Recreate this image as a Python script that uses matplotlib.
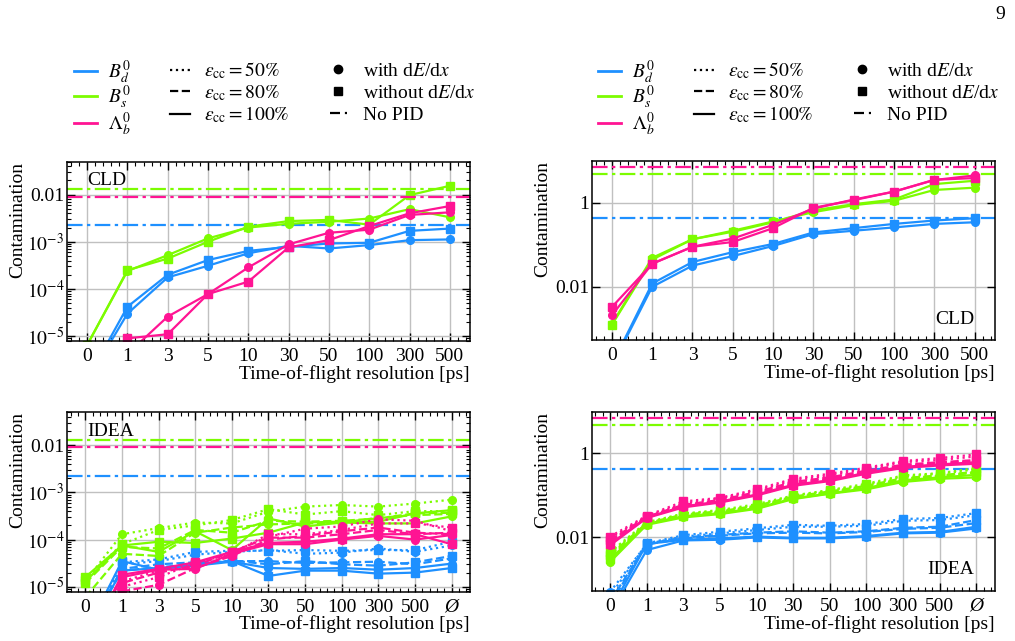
import numpy as np
import matplotlib.pyplot as plt
from matplotlib.lines import Line2D
from matplotlib.ticker import LogLocator, FuncFormatter, MultipleLocator, NullLocator

plt.rcParams['font.family'] = ['Liberation Serif', 'DejaVu Serif']
plt.rcParams['mathtext.fontset'] = 'stix'
plt.rcParams['font.size'] = 14

# x categories (time-of-flight resolution)
res_cld = ['0', '1', '3', '5', '10', '30', '50', '100', '300', '500']
res_idea = res_cld + ['Ø']

# CLD, left: [with dE/dx, without dE/dx]
cld_l_bd = [[1.1e-6, 3.0e-5, 1.76e-4, 3.1e-4, 5.7e-4, 8.2e-4, 7.2e-4, 8.5e-4, 1.08e-3, 1.12e-3],
            [1.2e-6, 4.2e-5, 2.0e-4, 4.1e-4, 6.4e-4, 7.8e-4, 9.2e-4, 9.5e-4, 1.7e-3, 1.9e-3]]
cld_l_bs = [[6.5e-6, 2.4e-4, 5.2e-4, 1.18e-3, 2.0e-3, 2.4e-3, 2.65e-3, 3.1e-3, 4.9e-3, 3.3e-3],
            [6.5e-6, 2.5e-4, 4.4e-4, 1.0e-3, 2.08e-3, 2.74e-3, 2.9e-3, 2.3e-3, 9.7e-3, 1.53e-2]]
cld_l_lb = [[1e-7, 4.2e-6, 2.6e-5, 7.8e-5, 2.86e-4, 8.8e-4, 1.55e-3, 1.8e-3, 3.7e-3, 4.2e-3],
            [1e-7, 9.0e-6, 1.1e-5, 7.8e-5, 1.43e-4, 7.6e-4, 1.08e-3, 2.15e-3, 4.0e-3, 5.7e-3]]

# CLD, right: [with dE/dx, without dE/dx]
cld_r_bd = [[1.3e-4, 0.010, 0.032, 0.054, 0.094, 0.18, 0.217, 0.26, 0.315, 0.345],
            [1.4e-4, 0.012, 0.039, 0.067, 0.105, 0.197, 0.25, 0.315, 0.38, 0.43]]
cld_r_bs = [[1.3e-3, 0.049, 0.136, 0.217, 0.36, 0.60, 0.88, 1.12, 2.03, 2.3],
            [1.24e-3, 0.0445, 0.136, 0.205, 0.345, 0.66, 0.93, 1.2, 2.8, 3.36]]
cld_r_lb = [[2.1e-3, 0.0355, 0.09, 0.141, 0.30, 0.73, 1.2, 1.85, 3.5, 4.5],
            [3.3e-3, 0.0355, 0.09, 0.117, 0.25, 0.76, 1.16, 1.85, 3.55, 3.9]]

# IDEA, left: [eps50 with, eps50 without, eps80 with, eps80 without, eps100 with, eps100 without]
idea_l_bd = [[1e-6, 3.0e-5, 3.5e-5, 4.8e-5, 5.5e-5, 6.0e-5, 5.0e-5, 5.3e-5, 6.5e-5, 5.5e-5, 7.5e-5],
             [1e-6, 3.3e-5, 3.8e-5, 5.5e-5, 5.8e-5, 5.8e-5, 6.0e-5, 5.8e-5, 6.0e-5, 6.0e-5, 9.0e-5],
             [1e-6, 2.4e-5, 3.0e-5, 3.3e-5, 3.5e-5, 3.5e-5, 3.2e-5, 3.3e-5, 3.4e-5, 3.0e-5, 4.0e-5],
             [1e-6, 2.2e-5, 2.6e-5, 3.0e-5, 3.6e-5, 3.0e-5, 3.5e-5, 3.0e-5, 2.8e-5, 3.3e-5, 4.5e-5],
             [1e-6, 2.2e-5, 2.5e-5, 2.8e-5, 3.4e-5, 2.5e-5, 2.4e-5, 2.5e-5, 2.3e-5, 2.5e-5, 3.1e-5],
             [1e-6, 3.5e-5, 2.3e-5, 3.0e-5, 3.5e-5, 1.7e-5, 2.2e-5, 2.2e-5, 1.9e-5, 2.0e-5, 2.5e-5]]
idea_l_bs = [[1.3e-5, 1.3e-4, 1.75e-4, 2.3e-4, 2.2e-4, 3.9e-4, 5.0e-4, 5.4e-4, 5.0e-4, 5.8e-4, 7.0e-4],
             [1.4e-5, 8.0e-5, 1.6e-4, 2.0e-4, 2.6e-4, 4.4e-4, 3.4e-4, 4.0e-4, 3.3e-4, 4.0e-4, 4.0e-4],
             [6.0e-6, 5.0e-5, 4.5e-5, 1.4e-4, 1.8e-4, 2.1e-4, 2.2e-4, 2.3e-4, 2.9e-4, 3.3e-4, 3.5e-4],
             [1.2e-5, 7.0e-5, 6.5e-5, 1.6e-4, 1.4e-4, 2.5e-4, 2.4e-4, 2.5e-4, 2.8e-4, 3.6e-4, 3.7e-4],
             [1.3e-5, 7.5e-5, 5.5e-5, 1.5e-4, 6.0e-5, 2.8e-4, 1.9e-4, 2.3e-4, 2.2e-4, 2.2e-4, 3.1e-4],
             [1.6e-5, 7.5e-5, 9.0e-5, 8.5e-5, 1.05e-4, 1.4e-4, 2.3e-4, 2.4e-4, 2.4e-4, 3.6e-4, 4.2e-4]]
idea_l_lb = [[5e-7, 1.3e-5, 2.2e-5, 3.0e-5, 5.5e-5, 1.15e-4, 1.7e-4, 1.9e-4, 2.7e-4, 2.5e-4, 1.5e-4],
             [5e-7, 1.0e-5, 1.6e-5, 3.2e-5, 5.0e-5, 1.3e-4, 1.3e-4, 1.6e-4, 2.2e-4, 2.2e-4, 1.8e-4],
             [4e-7, 8.0e-6, 1.1e-5, 2.5e-5, 4.5e-5, 1.0e-4, 1.2e-4, 1.5e-4, 1.8e-4, 1.4e-4, 1.3e-4],
             [5e-7, 1.2e-5, 2.0e-5, 2.8e-5, 5.5e-5, 1.1e-4, 1.1e-4, 1.3e-4, 1.6e-4, 1.3e-4, 1.4e-4],
             [5e-7, 1.6e-5, 2.3e-5, 2.4e-5, 5.0e-5, 8.0e-5, 8.0e-5, 1.0e-4, 1.2e-4, 1.0e-4, 1.25e-4],
             [5e-7, 1.8e-5, 2.4e-5, 3.3e-5, 5.5e-5, 8.5e-5, 9.0e-5, 1.05e-4, 1.3e-4, 1.3e-4, 8.0e-5]]

# IDEA, right
idea_r_bd = [[5e-4, 0.0070, 0.0105, 0.0125, 0.015, 0.018, 0.018, 0.019, 0.025, 0.026, 0.034],
             [4e-4, 0.0072, 0.0113, 0.0137, 0.0165, 0.020, 0.019, 0.021, 0.0275, 0.029, 0.038],
             [3e-4, 0.0068, 0.0095, 0.011, 0.0125, 0.013, 0.0125, 0.0135, 0.016, 0.017, 0.022],
             [2.5e-4, 0.0070, 0.010, 0.0115, 0.013, 0.014, 0.013, 0.014, 0.017, 0.018, 0.026],
             [1.5e-4, 0.0050, 0.0085, 0.0088, 0.010, 0.0095, 0.0095, 0.0104, 0.0125, 0.013, 0.0164],
             [1.8e-4, 0.0070, 0.0088, 0.0095, 0.0105, 0.0098, 0.0098, 0.0108, 0.013, 0.0135, 0.018]]
idea_r_bs = [[0.0042, 0.022, 0.036, 0.043, 0.058, 0.097, 0.13, 0.18, 0.28, 0.33, 0.42],
             [0.0045, 0.023, 0.037, 0.045, 0.062, 0.10, 0.135, 0.19, 0.30, 0.34, 0.45],
             [0.0035, 0.021, 0.034, 0.040, 0.054, 0.09, 0.12, 0.16, 0.25, 0.29, 0.35],
             [0.0038, 0.022, 0.035, 0.042, 0.057, 0.094, 0.125, 0.17, 0.26, 0.30, 0.37],
             [0.0026, 0.020, 0.030, 0.036, 0.048, 0.082, 0.11, 0.14, 0.21, 0.25, 0.27],
             [0.0030, 0.021, 0.032, 0.038, 0.050, 0.085, 0.112, 0.15, 0.23, 0.27, 0.31]]
idea_r_lb = [[0.0095, 0.032, 0.065, 0.085, 0.13, 0.23, 0.30, 0.43, 0.62, 0.70, 0.85],
             [0.0105, 0.033, 0.072, 0.088, 0.14, 0.25, 0.33, 0.46, 0.66, 0.78, 0.95],
             [0.0080, 0.030, 0.058, 0.074, 0.11, 0.19, 0.25, 0.36, 0.50, 0.58, 0.65],
             [0.0085, 0.031, 0.060, 0.078, 0.12, 0.21, 0.27, 0.39, 0.54, 0.62, 0.70],
             [0.0065, 0.029, 0.052, 0.068, 0.10, 0.17, 0.22, 0.33, 0.45, 0.52, 0.57],
             [0.0070, 0.030, 0.055, 0.072, 0.105, 0.18, 0.23, 0.35, 0.48, 0.55, 0.62]]

# No PID reference levels [Bd, Bs, Lb]
nopid_l = [2.25e-3, 0.013, 0.009]
nopid_r = [0.43, 4.9, 7.0]

colors = ['#1E90FF', '#7CFC00', '#FF1493']
markers = ['o', 's']
eps_styles = [':', '--', '-']
dashdot = (0, (7, 2, 1.5, 2))


def fmt_log(v, pos):
    if v >= 0.01:
        return '%g' % v
    return r'$10^{%d}$' % int(round(np.log10(v)))


def style_axes(ax, labels, ylim, base):
    ax.set_yscale('log')
    ax.set_xlim(-0.5, len(labels) - 0.5)
    ax.set_ylim(*ylim)
    ax.set_xticks(np.arange(len(labels)))
    ax.set_xticklabels(labels)
    if labels[-1] == 'Ø':
        ax.get_xticklabels()[-1].set_style('italic')
    ax.xaxis.set_minor_locator(MultipleLocator(0.2))
    ax.yaxis.set_major_locator(LogLocator(base=base, numticks=20))
    if base == 10:
        ax.yaxis.set_minor_locator(LogLocator(base=10, subs=np.arange(2, 10), numticks=20))
    else:
        ax.yaxis.set_minor_locator(NullLocator())
    ax.yaxis.set_major_formatter(FuncFormatter(fmt_log))
    ax.tick_params(which='both', direction='in', top=True, right=True)
    ax.tick_params(which='major', length=6, width=1)
    ax.tick_params(which='minor', length=3, width=0.8)
    ax.tick_params(axis='x', which='major', pad=5)
    ax.tick_params(axis='y', which='major', pad=2)
    for s in ax.spines.values():
        s.set_linewidth(1.1)
    ax.grid(True, which='major', color='#c0c0c0', lw=1)
    ax.set_axisbelow(True)
    ax.set_xlabel('Time-of-flight resolution [ps]', loc='right', labelpad=0)
    ax.set_ylabel('Contamination', loc='top')
    ax.yaxis.set_label_coords(-0.10, 1.0)


def draw_cld(ax, series, nopid):
    x = np.arange(len(res_cld))
    for c, sp, ref in zip(colors, series, nopid):
        ax.axhline(ref, color=c, lw=1.6, linestyle=dashdot)
        for m, vals in zip(markers, sp):
            ax.plot(x, vals, color=c, lw=1.6, marker=m, ms=5.5)


def draw_idea(ax, series, nopid):
    x = np.arange(len(res_idea))
    for c, sp, ref in zip(colors, series, nopid):
        ax.axhline(ref, color=c, lw=1.6, linestyle=dashdot)
        for i, vals in enumerate(sp):
            ax.plot(x, vals, color=c, lw=1.6, linestyle=eps_styles[i // 2],
                    marker=markers[i % 2], ms=5.5)


fig = plt.figure(figsize=(10.15, 6.41), dpi=100)
w, h = 0.397, 0.28
ax_tl = fig.add_axes([0.066, 0.468, w, h])
ax_tr = fig.add_axes([0.583, 0.469, w, h])
ax_bl = fig.add_axes([0.066, 0.077, w, h])
ax_br = fig.add_axes([0.583, 0.078, w, h])

draw_cld(ax_tl, [cld_l_bd, cld_l_bs, cld_l_lb], nopid_l)
draw_cld(ax_tr, [cld_r_bd, cld_r_bs, cld_r_lb], nopid_r)
draw_idea(ax_bl, [idea_l_bd, idea_l_bs, idea_l_lb], nopid_l)
draw_idea(ax_br, [idea_r_bd, idea_r_bs, idea_r_lb], nopid_r)

style_axes(ax_tl, res_cld, (7.9e-6, 0.05), 10)
style_axes(ax_tr, res_cld, (5.3e-4, 10), 100)
style_axes(ax_bl, res_idea, (7.9e-6, 0.05), 10)
style_axes(ax_br, res_idea, (5.3e-4, 10), 100)

ax_tl.text(0.05, 0.94, 'CLD', transform=ax_tl.transAxes, ha='left', va='top')
ax_bl.text(0.05, 0.94, 'IDEA', transform=ax_bl.transAxes, ha='left', va='top')
ax_tr.text(0.95, 0.07, 'CLD', transform=ax_tr.transAxes, ha='right', va='bottom')
ax_br.text(0.95, 0.07, 'IDEA', transform=ax_br.transAxes, ha='right', va='bottom')

# legend entries, one small legend each so rows line up across columns
species_handles = [Line2D([], [], color=c, lw=2) for c in colors]
species_labels = [r'$B_d^0$', r'$B_s^0$', r'$\Lambda_b^0$']
eps_handles = [Line2D([], [], color='k', lw=1.6, linestyle=ls) for ls in eps_styles]
eps_labels = [r'$\varepsilon_{\rm cc} = 50\%$', r'$\varepsilon_{\rm cc} = 80\%$',
              r'$\varepsilon_{\rm cc} = 100\%$']
pid_handles = [Line2D([], [], color='k', marker='o', ms=6, linestyle='None'),
               Line2D([], [], color='k', marker='s', ms=6, linestyle='None'),
               Line2D([], [], color='k', lw=1.6, linestyle=(0, (4.5, 2.2, 1, 2)))]
pid_labels = [r'with d$E$/d$x$', r'without d$E$/d$x$', 'No PID']

groups = [(species_handles, species_labels, 74, [72, 97, 124], 1.18, 0.57),
          (eps_handles, eps_labels, 170, [71, 93, 115], 1.03, 0.72),
          (pid_handles, pid_labels, 330, [71, 93, 115], 0.87, 0.82)]
for dx in [0, 524]:
    for hs, ls, x0, ys, hl, tp in groups:
        for hnd, lab, y0 in zip(hs, ls, ys):
            fig.legend([hnd], [lab], loc='center left',
                       bbox_to_anchor=((x0 + dx) / 1015, 1 - y0 / 641),
                       frameon=False, handlelength=hl, handletextpad=tp,
                       borderpad=0, borderaxespad=0)

fig.text(0.99, 0.99, '9', ha='right', va='top')

fig.savefig('out.png', dpi=100)
